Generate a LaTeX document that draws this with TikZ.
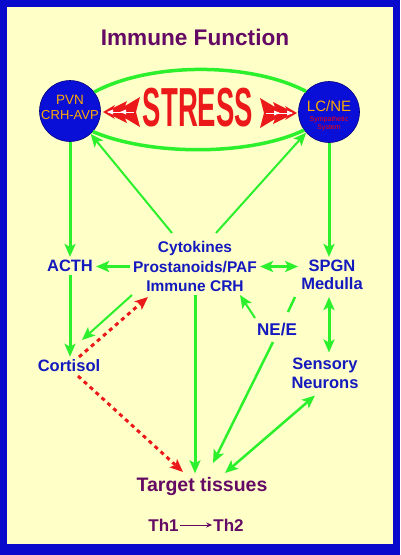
\documentclass[tikz,border=0pt]{standalone}
\usepackage{fontspec}
\setmainfont{Liberation Sans}
\usetikzlibrary{arrows.meta,calc}
\definecolor{bg}{RGB}{255,255,200}
\definecolor{frameblue}{RGB}{10,10,205}
\definecolor{gr}{RGB}{45,240,45}
\definecolor{lbl}{RGB}{20,25,190}
\definecolor{purp}{RGB}{100,10,100}
\definecolor{rd}{RGB}{235,25,25}
\definecolor{circ}{RGB}{10,15,215}
\definecolor{orng}{RGB}{255,170,0}
\begin{document}
\begin{tikzpicture}[x=1pt,y=-1pt,
  lab/.style={text=lbl,font=\fontsize{16.5}{19.5}\selectfont\bfseries,align=center,inner sep=3pt},
  gline/.style={draw=gr,line width=3pt},
  tipg/.tip={Stealth[length=13pt,width=11pt,inset=3pt]},
  garrow/.style={gline,-tipg},
  gthin/.style={draw=gr,line width=2pt,-tipg},
  gdouble/.style={gline,tipg-tipg},
  rdot/.style={draw=rd,line width=3pt,dash pattern=on 4pt off 4pt,-{Stealth[length=13pt,width=11pt,inset=3pt]}},
  brain/.style={circle,fill=circ,draw=blue!50!black,line width=0.6pt,minimum size=61pt,inner sep=0pt}
]
\useasboundingbox (0,0) rectangle (400,555);
\fill[frameblue] (0,0) rectangle (400,555);
\fill[bg] (7,7) rectangle (393,544);

% title
\node[text=purp,font=\fontsize{22.6}{26}\selectfont\bfseries] (title) at (195,37) {Immune Function};

% circles and arcs
\node[brain] (pvn) at (70,111) {};
\node[brain] (lc) at (329,112) {};
\draw[draw=gr,line width=3.5pt] (pvn.38) .. controls (150,62) and (250,62) .. (lc.138);
\draw[draw=gr,line width=3.5pt] (pvn.-42) .. controls (150,156) and (250,156) .. (lc.-144);

\node[text=orng,font=\fontsize{13.5}{15}\selectfont,inner sep=0pt] (pvnname) at (70,100) {PVN};
\node[text=orng,font=\fontsize{13}{15}\selectfont,inner sep=0pt] (pvnsub) at (70,115) {CRH-AVP};
\node[text=orng,font=\fontsize{15}{17}\selectfont,inner sep=0pt] (lcname) at (329,106.5) {LC/NE};
\node[text=red,font=\fontsize{7}{8}\selectfont,align=center,inner sep=0pt] (lcsub) at (329,123.5) {Sympathetic\\System};

% stress
\node[text=rd,font=\fontsize{27.5}{30}\selectfont\bfseries] (stress) at (198,108) {\scalebox{1}[2]{STRESS}};
\begin{scope}[shift={(103,112)},xscale=-1]
  \fill[rd] (0,0) -- (-12,-7) -- (-10,-4) -- (-24,-11) -- (-22,-6) -- (-37,-15) -- (-33,0) -- (-37,15) -- (-22,6) -- (-24,11) -- (-10,4) -- (-12,7) -- cycle;
  \draw[white,line width=1pt] (-31,0) -- (-5,0);
  \fill[white] (-4,0) -- (-10,-2.5) -- (-10,2.5) -- cycle;
  \fill[white] (-17,0) -- (-23,-2.5) -- (-23,2.5) -- cycle;
\end{scope}
\begin{scope}[shift={(297,113)}]
  \fill[rd] (0,0) -- (-12,-7) -- (-10,-4) -- (-24,-11) -- (-22,-6) -- (-37,-15) -- (-33,0) -- (-37,15) -- (-22,6) -- (-24,11) -- (-10,4) -- (-12,7) -- cycle;
  \draw[white,line width=1pt] (-31,0) -- (-5,0);
  \fill[white] (-4,0) -- (-10,-2.5) -- (-10,2.5) -- cycle;
  \fill[white] (-17,0) -- (-23,-2.5) -- (-23,2.5) -- cycle;
\end{scope}

% labels
\node[lab] (acth) at (70,266) {ACTH};
\node[lab,font=\fontsize{15.5}{19.5}\selectfont\bfseries] (cyto) at (195,266.5) {Cytokines\\Prostanoids/PAF\\Immune CRH};
\node[lab,font=\fontsize{16.5}{18}\selectfont\bfseries] (spgn) at (332,275) {SPGN\\Medulla};
\node[lab] (cort) at (69,366) {Cortisol};
\node[lab,font=\fontsize{17}{19}\selectfont\bfseries] (nee) at (277,330) {NE/E};
\node[lab,font=\fontsize{16.5}{19}\selectfont\bfseries] (sens) at (325,373.5) {Sensory\\Neurons};
\node[text=purp,font=\fontsize{19.5}{22}\selectfont\bfseries] (target) at (202,486) {Target tissues};
\node[text=purp,font=\fontsize{17}{19}\selectfont\bfseries,inner sep=1pt] (th1) at (163.5,525) {Th1};
\node[text=purp,font=\fontsize{17}{19}\selectfont\bfseries,inner sep=1pt] (th2) at (228.5,525) {Th2};
\draw[purp,line width=1pt,-{Stealth[length=6pt,width=5pt]}] (th1) -- (th2);

% connectors
\draw[garrow] (pvn.south) -- (acth.north);
\draw[garrow] (acth.south) -- (acth.south |- cort.north);
\draw[gthin] ($(cyto)+(-23,-33.5)$) -- (pvn.-48);
\draw[gthin] ($(cyto)+(21,-33.5)$) -- (lc.-138);
\draw[garrow] (lc.south) -- (lc.south |- spgn.north);
\draw[garrow] (cyto.west) -- (cyto.west -| acth.east);
\draw[gdouble] (cyto.east) -- (cyto.east -| spgn.west);
\draw[gthin] ($(cyto)+(-63,28.5)$) -- ($(cort)+(13,-26)$);
\draw[rdot] ($(cort)+(10,-9)$) -- ($(cyto)+(-47,30.5)$);
\draw[rdot] ($(cort)+(9,10)$) -- ($(target)+(-19,-14)$);
\draw[garrow] (cyto.south) -- (cyto.south |- target.north);
\draw[draw=gr,line width=2.5pt] ($(spgn)+(-37,22)$) -- ($(nee)+(11,-18)$);
\draw[draw=gr,line width=2.5pt,-tipg] ($(nee)+(-4,12)$) -- ($(target)+(11,-23)$);
\draw[gthin] ($(nee)+(-22,-12)$) -- ($(cyto)+(45,28.5)$);
\draw[gdouble] ($(spgn)+(-3,22)$) -- ($(sens)+(4,-21)$);
\draw[draw=gr,line width=2.5pt,tipg-tipg] ($(sens)+(-10,22)$) -- ($(target)+(23,-13)$);
\end{tikzpicture}
\end{document}
